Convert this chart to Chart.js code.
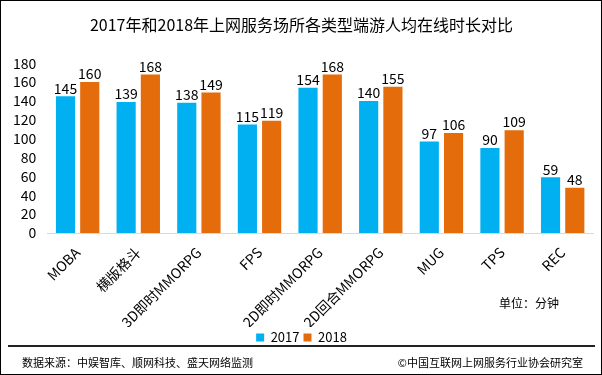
<!DOCTYPE html>
<html>
<head>
<meta charset="utf-8">
<script src="https://cdn.jsdelivr.net/npm/chart.js@4"></script>
<style>
body { margin: 0; }
#box { position: relative; width: 602px; height: 375px; border: 1px solid #000; box-sizing: border-box; background: #fff; font-family: "Noto Sans CJK SC", sans-serif; }
#wrap { position: absolute; left: 0; top: 0; width: 600px; height: 353px; }
#unit { position: absolute; left: 498px; top: 293px; font-size: 12px; color: #000; }
#line { position: absolute; left: 7px; top: 344px; width: 587px; height: 2px; background: #222; }
#src { position: absolute; left: 21px; top: 353px; font-size: 11px; color: #000; }
#copy { position: absolute; right: 18px; top: 353px; font-size: 11px; color: #000; }
</style>
</head>
<body>
<div id="box">
  <div id="wrap"><canvas id="chart"></canvas></div>
  <div id="unit">单位：分钟</div>
  <div id="line"></div>
  <div id="src">数据来源：中娱智库、顺网科技、盛天网络监测</div>
  <div id="copy">©中国互联网上网服务行业协会研究室</div>
</div>
<script>
var categories = ["MOBA", "横版格斗", "3D即时MMORPG", "FPS", "2D即时MMORPG", "2D回合MMORPG", "MUG", "TPS", "REC"];
var values_2017 = [145, 139, 138, 115, 154, 140, 97, 90, 59];
var values_2018 = [160, 168, 149, 119, 168, 155, 106, 109, 48];
var y_ticks = [0, 20, 40, 60, 80, 100, 120, 140, 160, 180];

var cjk = "'Noto Sans CJK SC', sans-serif";

// numbers above each bar
var barLabels = {
    id: "barLabels",
    afterDatasetsDraw: function(chart) {
        var ctx = chart.ctx;
        ctx.save();
        ctx.font = "14px " + cjk;
        ctx.fillStyle = "#000";
        ctx.textAlign = "center";
        ctx.textBaseline = "bottom";
        chart.data.datasets.forEach(function(ds, i) {
            chart.getDatasetMeta(i).data.forEach(function(bar, j) {
                ctx.fillText(ds.data[j], bar.x, bar.y - 1);
            });
        });
        ctx.restore();
    }
};

var ctx = document.getElementById("chart").getContext("2d");
var myChart = new Chart(ctx, {
    type: "bar",
    data: {
        labels: categories,
        datasets: [{
            label: "2017",
            data: values_2017,
            backgroundColor: "#00B0F0",
        }, {
            label: "2018",
            data: values_2018,
            backgroundColor: "#E46C0A",
        }],
    },
    options: {
        responsive: true,
        maintainAspectRatio: false,
        animation: false,
        categoryPercentage: 0.8,
        barPercentage: 0.79,
        layout: { padding: { left: 9, right: 8, top: 0, bottom: 0 } },
        plugins: {
            title: {
                display: true,
                text: "2017年和2018年上网服务场所各类型端游人均在线时长对比",
                color: "#000",
                font: { family: cjk, size: 16, weight: "normal" },
                padding: { top: 14, bottom: 29 },
            },
            legend: {
                position: "bottom",
                labels: {
                    color: "#000",
                    boxWidth: 8,
                    boxHeight: 8,
                    padding: 4,
                    font: { family: cjk, size: 13 },
                },
            },
            tooltip: { enabled: false },
        },
        scales: {
            x: {
                grid: { display: false },
                border: { color: "#D9D9D9", width: 1 },
                afterFit: function(axis) { axis.height = 94; },
                ticks: {
                    color: "#000",
                    minRotation: 45,
                    maxRotation: 45,
                    autoSkip: false,
                    font: { family: cjk, size: 14 },
                },
            },
            y: {
                min: 0,
                max: 180,
                afterBuildTicks: function(axis) {
                    axis.ticks = y_ticks.map(function(v) { return { value: v }; });
                },
                grid: { display: false },
                border: { display: false },
                ticks: {
                    color: "#000",
                    autoSkip: false,
                    font: { family: cjk, size: 14 },
                },
            },
        },
    },
    plugins: [barLabels],
});
</script>
</body>
</html>
